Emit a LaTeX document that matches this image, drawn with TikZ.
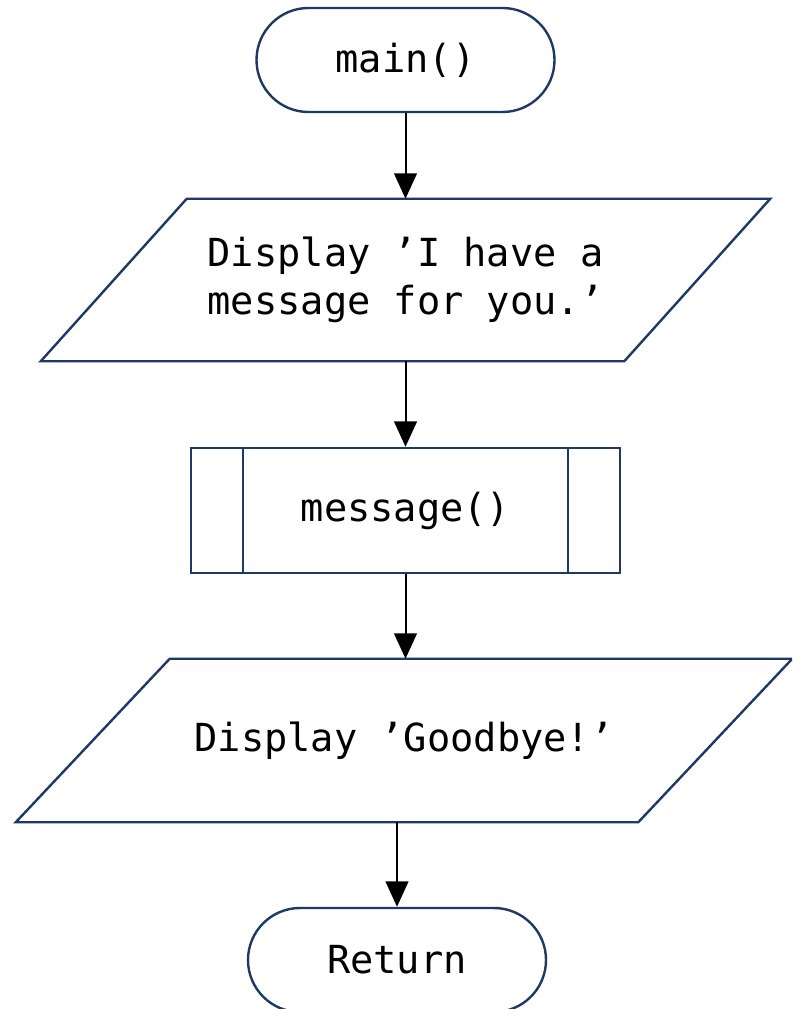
\documentclass[tikz,border=0pt]{standalone}
\usepackage{fontspec}
\setmonofont{DejaVu Sans Mono}
\usetikzlibrary{arrows.meta}
\definecolor{boxblue}{RGB}{31,56,100}
\begin{document}
\begin{tikzpicture}[x=0.75pt,y=-0.75pt,
        font=\ttfamily\fontsize{29}{36}\selectfont,
        term/.style={draw=boxblue,line width=1.8pt,rounded corners=39pt,minimum width=223.5pt,minimum height=78pt},
        io/.style={align=left,inner sep=0pt},
        subbox/.style={draw=boxblue,line width=1.8pt,minimum width=321.75pt,minimum height=93.75pt},
        frame/.style={draw=boxblue,line width=1.8pt},
        arr/.style={line width=1.5pt,-{Triangle[length=19pt,width=17pt]}}]
        \useasboundingbox(0,0)rectangle(792,1009);
        \clip(0,0)rectangle(792,1009);
        \node[term](main)at(405.5,60){main()};
        \node[io,minimum width=437.25pt,minimum height=121.5pt](disp1)at(405.5,280){Display ’I have a\\message for you.’};
        \node[subbox](msg)at(405.5,510.5){message()};
        \node[io,minimum width=466.5pt,minimum height=122.25pt](disp2)at(404,740.5){Display ’Goodbye!’};
        \node[term](ret)at(397,960){Return};
        \draw[frame]([xshift=54.75pt]disp1.north west)--([xshift=54.75pt]disp1.north east)--([xshift=-54.75pt]disp1.south east)--([xshift=-54.75pt]disp1.south west)--cycle;
        \draw[frame]([xshift=57.75pt]disp2.north west)--([xshift=57.75pt]disp2.north east)--([xshift=-57.75pt]disp2.south east)--([xshift=-57.75pt]disp2.south west)--cycle;
        \draw[frame]([xshift=39.75pt]msg.north west)--([xshift=39.75pt]msg.south west);
        \draw[frame]([xshift=-39.75pt]msg.north east)--([xshift=-39.75pt]msg.south east);
        \draw[arr](main)--(disp1);
        \draw[arr](disp1)--(msg);
        \draw[arr](msg)--(msg|-disp2.north);
        \draw[arr](disp2.south-|ret)--(ret);
    \end{tikzpicture}
\end{document}
